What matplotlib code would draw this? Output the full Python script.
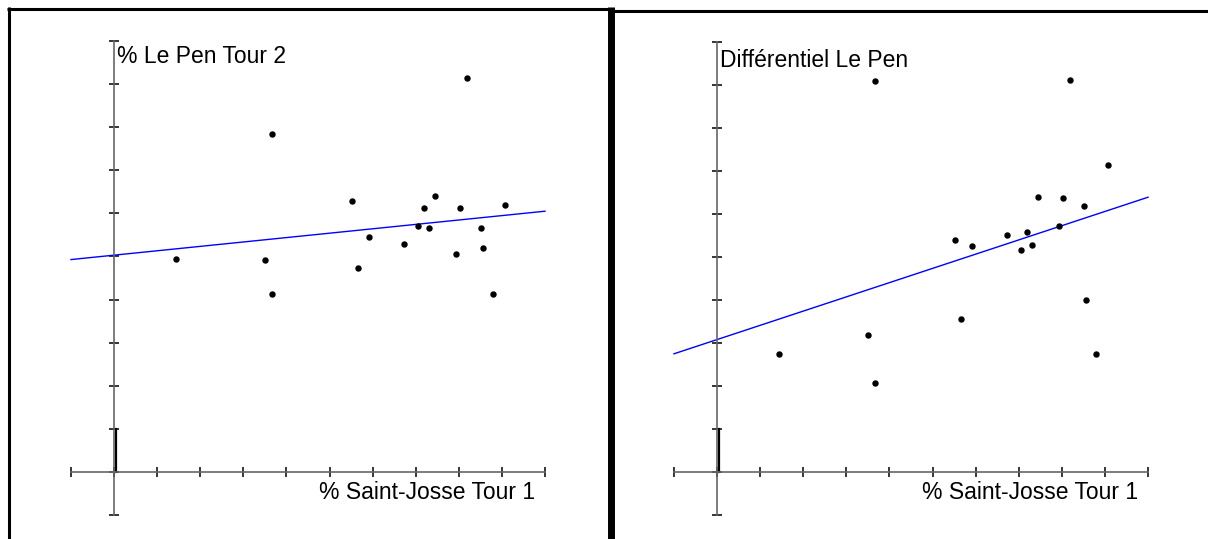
import numpy as np
import matplotlib.pyplot as plt
from matplotlib.lines import Line2D

#------------------------------------------------------------------------------------
# Data (in tick units)
saint_josse_t1 = [1.44, 3.50, 3.66, 3.66, 5.52, 5.66, 5.92, 6.73, 7.05, 7.19,
                  7.31, 7.45, 7.93, 8.03, 8.19, 8.51, 8.56, 8.79, 9.07]
lepen_t2 = [4.95, 4.91, 7.84, 4.12, 6.28, 4.74, 5.44, 5.30, 5.70, 6.12,
            5.65, 6.40, 5.05, 6.12, 9.14, 5.67, 5.19, 4.14, 6.19]
lepen_diff = [2.74, 3.19, 9.09, 2.07, 5.40, 3.56, 5.26, 5.51, 5.16, 5.58,
              5.28, 6.40, 5.72, 6.37, 9.12, 6.19, 4.00, 2.74, 7.14]

# regression lines (intercept, slope)
fit_t2 = (5.03, 0.102)
fit_diff = (3.08, 0.331)

ylabels = ("% Le Pen Tour 2", "Différentiel Le Pen")
xlabel = "% Saint-Josse Tour 1"

#------------------------------------------------------------------------------------
plt.rcParams['font.family'] = ['Liberation Sans', 'DejaVu Sans']

W, H = 1208, 539
fig = plt.figure(figsize=(W/100, H/100), dpi=100)

def px(x0, y0, w, h):
    return [x0/W, (H - y0 - h)/H, w/W, h/H]

panels = (px(71, 41, 474, 474), px(674, 42, 474, 473))
series = (lepen_t2, lepen_diff)
fits = (fit_t2, fit_diff)
label_y = (9.49, 9.42)

for p in range(2):
    ax = fig.add_axes(panels[p])
    ax.set_xlim(-1, 10)
    ax.set_ylim(-1, 10)
    for side in ('top', 'right'):
        ax.spines[side].set_visible(False)
    for side in ('left', 'bottom'):
        ax.spines[side].set_position(('data', 0))
        ax.spines[side].set_color('#666666')
        ax.spines[side].set_linewidth(1.2)
    ax.set_xticks(np.arange(-1, 11))
    ax.set_yticks(np.arange(-1, 11))
    ax.tick_params(direction='inout', length=6.5, width=1.1, color='black',
                   labelbottom=False, labelleft=False)
    ax.patch.set_alpha(0)

    # small segment next to the origin
    ax.plot([0.04, 0.04], [0, 1], color='black', lw=1.6, clip_on=False)

    xs = np.array([-1, 10])
    ax.plot(xs, fits[p][0] + fits[p][1]*xs, color='blue', lw=1.0, clip_on=False)
    ax.plot(saint_josse_t1, series[p], 'o', color='black', ms=3.6, clip_on=False)

    ax.text(0.07, label_y[p], ylabels[p], fontsize=16.5, ha='left', va='baseline')
    ax.text(9.77, -0.63, xlabel, fontsize=16.5, ha='right', va='baseline')

#------------------------------------------------------------------------------------
# panel borders
def border(x0, y0, x1, y1, lw):
    fig.add_artist(Line2D([x0/W, x1/W], [1 - y0/H, 1 - y1/H], color='black',
                          lw=lw, solid_capstyle='butt'))

border(7, 8.5, 611, 8.5, 2.2)
border(8.5, 7, 8.5, H, 2.2)
border(610, 10.5, W, 10.5, 2.2)
border(610.5, 7, 610.5, H, 5.0)

plt.savefig('out.png', dpi=100)
